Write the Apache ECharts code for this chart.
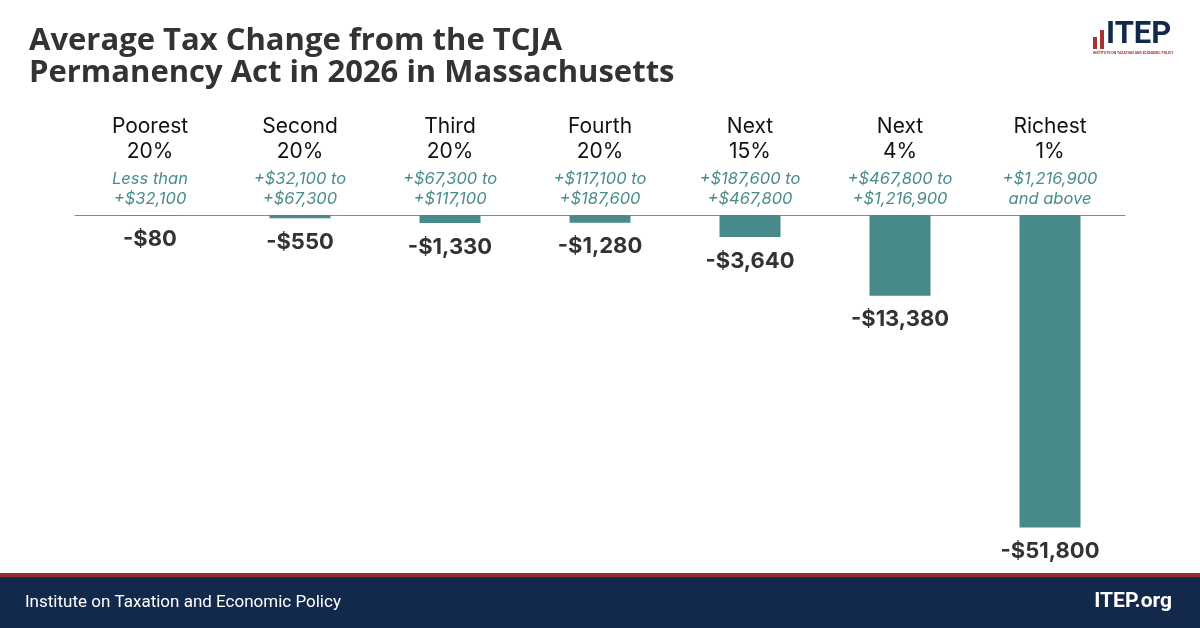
<!DOCTYPE html>
<html><head><meta charset="utf-8">
<script src="https://cdn.jsdelivr.net/npm/echarts@6/dist/echarts.min.js"></script>
<style>html,body{margin:0;padding:0;background:#fff}#c{width:1200px;height:628px}</style>
</head><body><div id="c"></div>
<script>
const groups = ['Poorest', 'Second', 'Third', 'Fourth', 'Next', 'Next', 'Richest'];
const shares = ['20%', '20%', '20%', '20%', '15%', '4%', '1%'];
const rangeLine1 = ['Less than', '+$32,100 to', '+$67,300 to', '+$117,100 to', '+$187,600 to', '+$467,800 to', '+$1,216,900'];
const rangeLine2 = ['+$32,100', '+$67,300', '+$117,100', '+$187,600', '+$467,800', '+$1,216,900', 'and above'];
const taxChange = [-80, -550, -1330, -1280, -3640, -13380, -51800];

const categories = groups.map((g, i) => i);
const chart = echarts.init(document.getElementById('c'), null, {renderer: 'canvas'});
const fmt = v => '-$' + Math.abs(v).toLocaleString('en-US');

chart.setOption({
  animation: false,
  title: {
    text: 'Average Tax Change from the TCJA\nPermanency Act in 2026 in Massachusetts',
    left: 24, top: 20,
    textStyle: {fontFamily: 'Open Sans', fontWeight: 'bold', fontSize: 31, lineHeight: 32, color: '#333'}
  },
  grid: {left: 75, right: 75, top: 215, height: 362},
  xAxis: {
    type: 'category', position: 'top', data: categories,
    axisLine: {show: true, lineStyle: {color: '#888', width: 1}},
    axisTick: {show: false},
    axisLabel: {
      margin: 6, interval: 0,
      formatter: (v, i) => '{a|' + groups[i] + '}\n{a|' + shares[i] + '}\n{g| }\n{s|' + rangeLine1[i] + '}\n{s|' + rangeLine2[i] + '}',
      rich: {
        a: {fontFamily: 'Inter', fontSize: 21, lineHeight: 25, color: '#111'},
        g: {fontSize: 1, lineHeight: 5},
        s: {fontFamily: 'Inter', fontStyle: 'italic', fontSize: 16.5, lineHeight: 20, color: '#4a8c8b'}
      }
    }
  },
  yAxis: {type: 'value', min: -60000, max: 0, show: false, splitLine: {show: false}},
  series: [{
    type: 'bar', data: taxChange, barWidth: 61,
    itemStyle: {color: '#478a89'},
    label: {
      show: true, position: 'bottom', distance: 13,
      formatter: p => fmt(p.value),
      fontFamily: 'Inter', fontWeight: 'bold', fontSize: 22, color: '#333'
    }
  }],
  graphic: [
    {type: 'rect', shape: {x: 0, y: 573, width: 1200, height: 4}, style: {fill: '#93302e'}},
    {type: 'rect', shape: {x: 0, y: 577, width: 1200, height: 51}, style: {fill: '#13294b'}},
    {type: 'text', left: 25, top: 594, style: {text: 'Institute on Taxation and Economic Policy', fill: '#fff', font: '17px Roboto'}},
    {type: 'text', right: 28, top: 591, style: {text: 'ITEP.org', fill: '#fff', font: 'bold 21px Roboto'}},
    {type: 'rect', shape: {x: 1093, y: 37, width: 4, height: 12}, style: {fill: '#a8322d'}},
    {type: 'rect', shape: {x: 1100, y: 30, width: 4, height: 19}, style: {fill: '#a8322d'}},
    {type: 'text', x: 1106, y: 20, style: {text: 'ITEP', fill: '#13294b', font: 'bold 31px Roboto'}},
    {type: 'text', x: 1093, y: 51, style: {text: 'INSTITUTE ON TAXATION AND ECONOMIC POLICY', fill: '#a8322d', font: 'bold 3.5px Roboto'}}
  ]
});
</script></body></html>
